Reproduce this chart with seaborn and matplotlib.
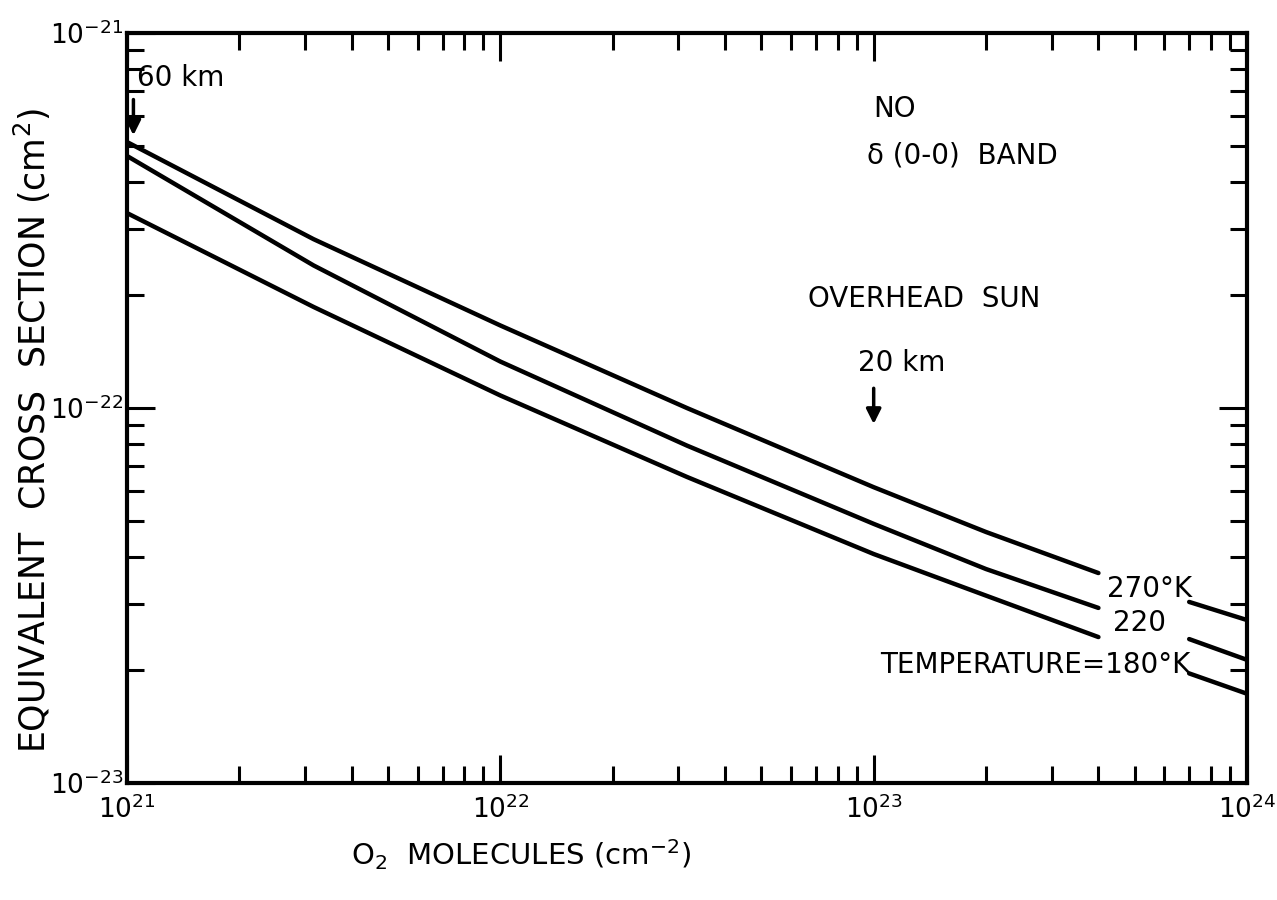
import numpy as np
import pandas as pd
import matplotlib
matplotlib.use("Agg")
import matplotlib.pyplot as plt
from matplotlib.ticker import LogLocator, NullFormatter
import seaborn as sns

# O2 column density (cm^-2); each curve is broken where its label sits
o2_column_main = [1e21, 3.16e21, 1e22, 3.16e22, 1e23, 2e23, 4e23]
o2_column_tail = [7e23, 1e24]

# Equivalent cross section (cm^2) for each temperature
xsec_270_main = [5.12e-22, 2.82e-22, 1.66e-22, 1.00e-22, 6.15e-23, 4.67e-23, 3.63e-23]
xsec_270_tail = [3.04e-23, 2.72e-23]
xsec_220_main = [4.70e-22, 2.40e-22, 1.33e-22, 7.94e-23, 4.91e-23, 3.72e-23, 2.93e-23]
xsec_220_tail = [2.42e-23, 2.13e-23]
xsec_180_main = [3.31e-22, 1.86e-22, 1.08e-22, 6.55e-23, 4.08e-23, 3.16e-23, 2.45e-23]
xsec_180_tail = [1.96e-23, 1.73e-23]

temperatures = ["270", "220", "180"]

rows = []
for temp, main, tail in zip(temperatures,
                            [xsec_270_main, xsec_220_main, xsec_180_main],
                            [xsec_270_tail, xsec_220_tail, xsec_180_tail]):
    for x, y in zip(o2_column_main, main):
        rows.append({"o2": x, "xsec": y, "seg": f"{temp}-a"})
    for x, y in zip(o2_column_tail, tail):
        rows.append({"o2": x, "xsec": y, "seg": f"{temp}-b"})
df = pd.DataFrame(rows)

sns.set_style("ticks")
plt.rcParams["font.family"] = ["DejaVu Sans"]
plt.rcParams["mathtext.default"] = "regular"
for key in ("text.color", "axes.labelcolor", "xtick.color", "ytick.color"):
    plt.rcParams[key] = "black"

fig = plt.figure(figsize=(12.77, 9), dpi=100)
ax = fig.add_axes([0.0995, 0.13, 0.877, 0.8333])
ax.set_xscale("log")
ax.set_yscale("log")

sns.lineplot(data=df, x="o2", y="xsec", units="seg", estimator=None,
             color="black", linewidth=3.2, legend=False, ax=ax)

ax.set_xlim(1e21, 1e24)
ax.set_ylim(1e-23, 1e-21)

ax.xaxis.set_major_locator(LogLocator(base=10, numticks=10))
ax.yaxis.set_major_locator(LogLocator(base=10, numticks=10))
ax.xaxis.set_minor_locator(LogLocator(base=10, subs=np.arange(2, 10), numticks=20))
ax.yaxis.set_minor_locator(LogLocator(base=10, subs=np.arange(2, 10), numticks=20))
ax.xaxis.set_minor_formatter(NullFormatter())
ax.yaxis.set_minor_formatter(NullFormatter())

ax.tick_params(which="both", direction="in", top=True, right=True,
               color="black", width=2.2)
ax.tick_params(which="major", length=20, labelsize=19)
ax.tick_params(axis="x", which="major", pad=9)
ax.tick_params(axis="y", which="major", pad=3)
ax.tick_params(which="minor", length=12)
for sp in ax.spines.values():
    sp.set_linewidth(3)
    sp.set_color("black")

ax.set_ylabel("EQUIVALENT  CROSS  SECTION (cm$^2$)", fontsize=25)
ax.yaxis.set_label_coords(-0.066, 0.47)
ax.set_xlabel("O$_2$  MOLECULES (cm$^{-2}$)", fontsize=21)
ax.xaxis.set_label_coords(0.352, -0.073)

txt = dict(transform=ax.transAxes, fontsize=20, color="black", va="center", ha="left")
ax.text(0.009, 0.94, "60 km", **txt)
ax.text(0.6527, 0.56, "20 km", **txt)
ax.text(0.608, 0.645, "OVERHEAD  SUN", **txt)
ax.text(0.666, 0.899, "NO", **txt)
ax.text(0.661, 0.837, "δ (0-0)  BAND", **txt)
ax.text(0.875, 0.259, "270°K", **txt)
ax.text(0.880, 0.213, "220", **txt)
ax.text(0.672, 0.157, "TEMPERATURE=180°K", **txt)

arrow = dict(arrowstyle="-|>", color="black", lw=2.5, mutation_scale=22)
ax.annotate("", xy=(1.04e21, 10**-21.28), xytext=(1.04e21, 10**-21.17),
            arrowprops=arrow)
ax.annotate("", xy=(1e23, 10**-22.05), xytext=(1e23, 10**-21.94),
            arrowprops=arrow)

fig.savefig("out.png", dpi=100, facecolor="white")
